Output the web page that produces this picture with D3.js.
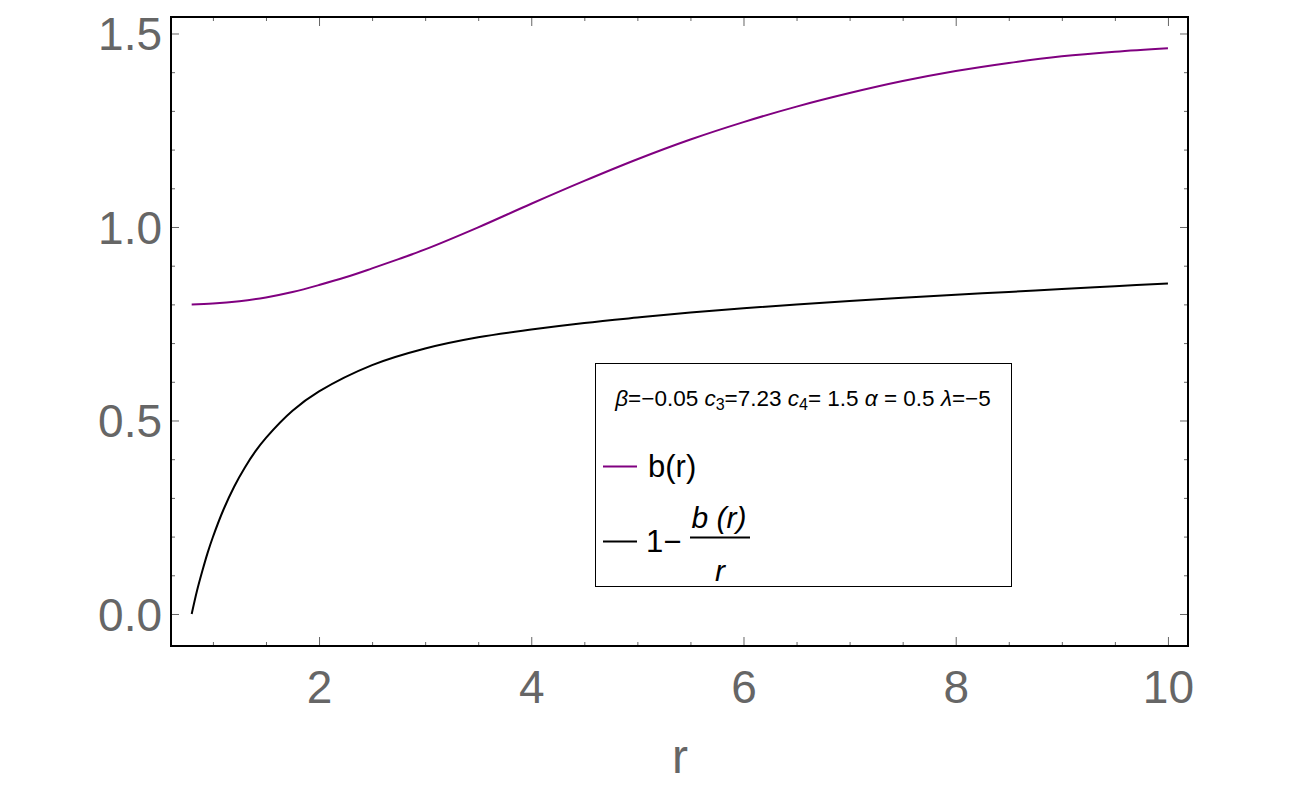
<!DOCTYPE html>
<html><head><meta charset="utf-8">
<script src="https://cdn.jsdelivr.net/npm/d3@7"></script>
<style>body{margin:0;background:#fff} svg{display:block;font-family:"Liberation Sans",Arial,Helvetica,sans-serif}</style>
</head><body>
<svg id="chart" width="1300" height="811"></svg>
<script>
// ---- data ----
const rB = [0.8, 1.0, 1.25, 1.5, 1.75, 2.0, 2.25, 2.5, 2.75, 3.0, 3.5, 4.0, 4.5, 5.0, 5.5, 6.0, 6.5, 7.0, 7.5, 8.0, 8.5, 9.0, 9.5, 10.0];
const bValues = [0.800, 0.802, 0.808, 0.818, 0.832, 0.850, 0.870, 0.893, 0.917, 0.942, 0.999, 1.060, 1.119, 1.175, 1.226, 1.271, 1.311, 1.346, 1.377, 1.403, 1.424, 1.441, 1.453, 1.462];
const rF = [0.8, 0.85, 0.9, 0.95, 1.0, 1.1, 1.2, 1.3, 1.4, 1.5, 1.75, 2.0, 2.5, 3.0, 3.5, 4.0, 4.5, 5.0, 5.5, 6.0, 6.5, 7.0, 7.5, 8.0, 8.5, 9.0, 9.5, 10.0];
const fValues = [0.000, 0.060, 0.111, 0.158, 0.199, 0.270, 0.329, 0.378, 0.420, 0.455, 0.525, 0.575, 0.643, 0.686, 0.715, 0.735, 0.752, 0.766, 0.779, 0.790, 0.800, 0.809, 0.817, 0.825, 0.832, 0.840, 0.847, 0.854];
const xMajorTicks = [2, 4, 6, 8, 10];
const xTickLabels = ["2", "4", "6", "8", "10"];
const xMinorTicks = [1, 1.5, 2.5, 3, 3.5, 4.5, 5, 5.5, 6.5, 7, 7.5, 8.5, 9, 9.5];
const yMajorTicks = [0, 0.5, 1.0, 1.5];
const yTickLabels = ["0.0", "0.5", "1.0", "1.5"];
const yMinorTicks = [0.1, 0.2, 0.3, 0.4, 0.6, 0.7, 0.8, 0.9, 1.1, 1.2, 1.3, 1.4];
const xLabel = "r";

// ---- layout ----
const L = 171, R = 1188, T = 17, B = 646;
const svg = d3.select("#chart");
const x = d3.scaleLinear().domain([0.605, 10.189]).range([L, R]);
const y = d3.scaleLinear().domain([-0.0827, 1.5426]).range([B, T]);
const tickColor = "#666";
const labelColor = "#666";

function styleAxis(g, labels) {
  g.select(".domain").remove();
  g.selectAll(".tick line").attr("stroke", tickColor).attr("stroke-width", 1);
  if (labels) g.selectAll(".tick text").attr("fill", labelColor).attr("font-size", 46).attr("font-family", "Liberation Sans, Arial, sans-serif");
  else g.selectAll(".tick text").remove();
}

// bottom
svg.append("g").attr("transform", `translate(0,${B})`)
  .call(d3.axisBottom(x).tickValues(xMajorTicks).tickFormat((d, i) => xTickLabels[i]).tickSize(-9).tickPadding(24))
  .call(g => styleAxis(g, true));
svg.append("g").attr("transform", `translate(0,${B})`)
  .call(d3.axisBottom(x).tickValues(xMinorTicks).tickSize(-4))
  .call(g => styleAxis(g, false));
// top
svg.append("g").attr("transform", `translate(0,${T})`)
  .call(d3.axisTop(x).tickValues(xMajorTicks).tickSize(-9))
  .call(g => styleAxis(g, false));
svg.append("g").attr("transform", `translate(0,${T})`)
  .call(d3.axisTop(x).tickValues(xMinorTicks).tickSize(-4))
  .call(g => styleAxis(g, false));
// left
svg.append("g").attr("transform", `translate(${L},0)`)
  .call(d3.axisLeft(y).tickValues(yMajorTicks).tickFormat((d, i) => yTickLabels[i]).tickSize(-8).tickPadding(9))
  .call(g => styleAxis(g, true))
  .call(g => g.selectAll(".tick text").attr("dy", "0.35em"));
svg.append("g").attr("transform", `translate(${L},0)`)
  .call(d3.axisLeft(y).tickValues(yMinorTicks).tickSize(-4))
  .call(g => styleAxis(g, false));
// right
svg.append("g").attr("transform", `translate(${R},0)`)
  .call(d3.axisRight(y).tickValues(yMajorTicks).tickSize(-8))
  .call(g => styleAxis(g, false));
svg.append("g").attr("transform", `translate(${R},0)`)
  .call(d3.axisRight(y).tickValues(yMinorTicks).tickSize(-4))
  .call(g => styleAxis(g, false));

// frame
svg.append("rect").attr("x", L).attr("y", T).attr("width", R - L).attr("height", B - T)
  .attr("fill", "none").attr("stroke", "#000").attr("stroke-width", 2);

// curves
const line = d3.line().x(d => x(d[0])).y(d => y(d[1])).curve(d3.curveCatmullRom.alpha(0.5));
svg.append("path").datum(rB.map((r, i) => [r, bValues[i]]))
  .attr("d", line).attr("fill", "none").attr("stroke", "#800080").attr("stroke-width", 2);
svg.append("path").datum(rF.map((r, i) => [r, fValues[i]]))
  .attr("d", line).attr("fill", "none").attr("stroke", "#000").attr("stroke-width", 2);

// axis label
svg.append("text").attr("x", 680).attr("y", 773).attr("text-anchor", "middle")
  .attr("font-size", 48).attr("fill", labelColor).text(xLabel);

// legend
const lg = svg.append("g");
lg.append("rect").attr("x", 595.5).attr("y", 363.5).attr("width", 416).attr("height", 223)
  .attr("fill", "#fff").attr("stroke", "#000").attr("stroke-width", 1);
const title = lg.append("text").attr("x", 803).attr("y", 406).attr("text-anchor", "middle")
  .attr("font-size", 22.5).attr("fill", "#000");
const parts = [
  ["β", "i"], ["=−0.05 ", ""], ["c", "i"], ["3", "s"], ["=7.23 ", ""], ["c", "i"], ["4", "s"],
  ["= 1.5 ", ""], ["α", "i"], [" = 0.5 ", ""], ["λ", "i"], ["=−5", ""]
];
let prevSub = false;
parts.forEach(([t, s]) => {
  const ts = title.append("tspan").text(t);
  if (s === "i") ts.attr("font-style", "italic");
  if (s === "s") { ts.attr("font-size", 16).attr("dy", 4); prevSub = true; }
  else if (prevSub) { ts.attr("dy", -4); prevSub = false; }
});
// legend items
lg.append("line").attr("x1", 603).attr("x2", 637).attr("y1", 466.5).attr("y2", 466.5)
  .attr("stroke", "#800080").attr("stroke-width", 2);
lg.append("text").attr("x", 648).attr("y", 477).attr("font-size", 31).attr("fill", "#000").text("b(r)");
lg.append("line").attr("x1", 603).attr("x2", 637).attr("y1", 541.5).attr("y2", 541.5)
  .attr("stroke", "#000").attr("stroke-width", 2);
lg.append("text").attr("x", 646).attr("y", 552).attr("font-size", 31).attr("fill", "#000").text("1−");
lg.append("text").attr("x", 719).attr("y", 528).attr("text-anchor", "middle").attr("font-size", 30)
  .attr("font-style", "italic").attr("fill", "#000").text("b (r)");
lg.append("line").attr("x1", 690).attr("x2", 750).attr("y1", 537.5).attr("y2", 537.5)
  .attr("stroke", "#000").attr("stroke-width", 2);
lg.append("text").attr("x", 720).attr("y", 581).attr("text-anchor", "middle").attr("font-size", 30)
  .attr("font-style", "italic").attr("fill", "#000").text("r");
</script>
</body></html>
